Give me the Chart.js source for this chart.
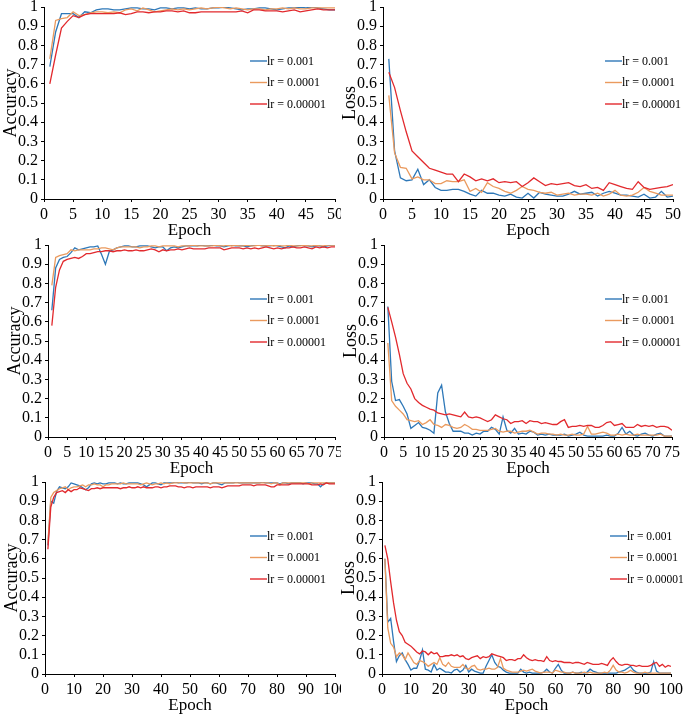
<!DOCTYPE html>
<html>
<head>
<meta charset="utf-8">
<script src="https://cdn.jsdelivr.net/npm/chart.js@4.4.1/dist/chart.umd.min.js"></script>
<style>
  body { margin: 0; background: #fff; }
  #wrap { position: relative; width: 685px; height: 717px; overflow: hidden; }
  canvas { position: absolute; }
</style>
</head>
<body>
<div id="wrap">
  <canvas id="c1" width="341" height="241" style="left:0px;top:0px"></canvas>
  <canvas id="c2" width="346" height="241" style="left:339px;top:0px"></canvas>
  <canvas id="c3" width="337" height="241" style="left:4px;top:238px"></canvas>
  <canvas id="c4" width="344" height="241" style="left:340px;top:238px"></canvas>
  <canvas id="c5" width="340" height="241" style="left:1px;top:475px"></canvas>
  <canvas id="c6" width="347" height="241" style="left:338px;top:475px"></canvas>
</div>
<script>
// learning rates (series names)
var seriesLabels = ['lr = 0.001', 'lr = 0.0001', 'lr = 0.00001'];
var colors = ['#2E78B8', '#EA9A5E', '#E2292D'];

var epochs50 = Array.from({length: 50}, (_, i) => i + 1);
var epochs75 = Array.from({length: 75}, (_, i) => i + 1);
var epochs100 = Array.from({length: 100}, (_, i) => i + 1);

// ---- 50 epochs ----
var acc50_lr3 = [0.69,0.87,0.965,0.965,0.965,0.945,0.975,0.97,0.985,0.99,0.99,0.985,0.985,0.99,0.995,0.995,0.99,0.99,0.985,0.995,0.995,0.99,0.995,0.995,0.99,0.995,0.99,0.99,0.995,0.995,1.0,0.995,0.99,0.985,0.99,0.99,0.995,0.995,0.99,0.985,0.99,0.995,0.995,1.0,0.995,1.0,0.995,0.99,0.985,0.985];
var acc50_lr4 = [0.73,0.93,0.94,0.945,0.975,0.955,0.96,0.97,0.975,0.975,0.97,0.975,0.97,0.985,0.99,0.98,0.995,0.985,0.975,0.98,0.985,0.99,0.985,0.99,0.985,0.99,0.995,0.99,0.995,1.0,0.995,0.99,0.995,0.99,0.985,0.99,0.99,0.985,0.99,0.99,0.995,0.99,0.995,0.99,0.99,0.995,0.995,0.995,0.995,0.995];
var acc50_lr5 = [0.60,0.75,0.89,0.925,0.955,0.945,0.96,0.965,0.965,0.965,0.965,0.965,0.97,0.96,0.965,0.975,0.975,0.97,0.975,0.975,0.98,0.98,0.975,0.98,0.97,0.97,0.975,0.975,0.975,0.975,0.975,0.975,0.975,0.98,0.97,0.985,0.985,0.98,0.98,0.98,0.975,0.98,0.985,0.975,0.98,0.985,0.99,0.985,0.985,0.985];

var loss50_lr3 = [0.73,0.25,0.11,0.095,0.10,0.155,0.075,0.10,0.06,0.045,0.045,0.05,0.05,0.04,0.025,0.015,0.045,0.03,0.03,0.02,0.015,0.025,0.01,0.005,0.03,0.005,0.035,0.025,0.02,0.015,0.015,0.025,0.04,0.025,0.03,0.035,0.015,0.03,0.04,0.03,0.02,0.02,0.015,0.01,0.025,0.005,0.01,0.04,0.01,0.015];
var loss50_lr4 = [0.54,0.24,0.165,0.16,0.105,0.115,0.10,0.10,0.08,0.08,0.095,0.09,0.09,0.10,0.04,0.055,0.035,0.085,0.065,0.055,0.04,0.03,0.045,0.065,0.05,0.045,0.035,0.03,0.035,0.02,0.025,0.03,0.02,0.025,0.025,0.02,0.03,0.015,0.025,0.045,0.02,0.015,0.02,0.035,0.06,0.04,0.03,0.02,0.02,0.02];
var loss50_lr5 = [0.66,0.58,0.46,0.35,0.25,0.22,0.19,0.16,0.15,0.14,0.13,0.13,0.09,0.13,0.115,0.095,0.105,0.095,0.105,0.085,0.09,0.085,0.09,0.065,0.085,0.11,0.09,0.07,0.08,0.075,0.08,0.085,0.07,0.065,0.075,0.055,0.06,0.045,0.085,0.075,0.065,0.055,0.05,0.09,0.06,0.05,0.055,0.06,0.065,0.075];

// ---- 75 epochs ----
var acc75_lr3 = [0.66,0.88,0.925,0.935,0.94,0.96,0.985,0.975,0.98,0.985,0.99,0.99,0.995,0.95,0.90,0.965,0.975,0.985,0.99,0.995,0.995,0.99,0.99,0.995,0.995,0.995,0.99,0.985,0.99,0.99,0.97,0.985,0.99,0.985,0.99,0.995,0.995,0.995,0.995,1.0,0.995,0.995,1.0,0.995,0.995,0.99,0.995,1.0,0.995,0.995,0.995,0.99,0.995,1.0,1.0,0.995,0.995,0.995,1.0,0.995,0.99,0.985,0.995,0.99,0.995,1.0,0.995,0.995,0.99,0.995,0.995,0.99,0.995,1.0,1.0];
var acc75_lr4 = [0.79,0.935,0.945,0.95,0.955,0.975,0.97,0.975,0.975,0.975,0.975,0.98,0.98,0.985,0.985,0.98,0.975,0.985,0.99,0.99,0.99,0.99,0.99,0.985,0.99,0.99,0.995,0.995,0.99,0.995,0.995,0.995,0.995,0.99,0.995,0.995,0.995,1.0,0.995,0.995,0.995,0.995,0.995,1.0,0.995,0.995,1.0,0.995,1.0,0.995,0.995,1.0,0.995,0.995,1.0,0.995,0.995,1.0,0.995,1.0,0.995,0.995,1.0,0.995,0.995,0.995,1.0,0.995,0.995,1.0,0.995,0.995,1.0,1.0,1.0];
var acc75_lr5 = [0.58,0.78,0.87,0.915,0.925,0.93,0.935,0.93,0.94,0.955,0.955,0.96,0.965,0.965,0.97,0.97,0.965,0.97,0.97,0.975,0.97,0.97,0.975,0.97,0.97,0.975,0.98,0.975,0.965,0.975,0.97,0.975,0.975,0.98,0.975,0.98,0.985,0.98,0.98,0.98,0.98,0.985,0.985,0.985,0.985,0.975,0.98,0.985,0.985,0.985,0.98,0.985,0.98,0.985,0.98,0.985,0.99,0.985,0.98,0.985,0.98,0.985,0.985,0.99,0.985,0.985,0.99,0.985,0.98,0.99,0.985,0.99,0.985,0.99,0.99];

var loss75_lr3 = [0.68,0.29,0.19,0.195,0.16,0.12,0.045,0.06,0.075,0.05,0.045,0.035,0.02,0.23,0.27,0.13,0.07,0.03,0.03,0.03,0.02,0.02,0.01,0.02,0.015,0.03,0.03,0.05,0.04,0.015,0.105,0.035,0.02,0.045,0.015,0.02,0.015,0.03,0.025,0.01,0.015,0.01,0.015,0.01,0.01,0.01,0.015,0.005,0.01,0.015,0.025,0.01,0.005,0.005,0.005,0.005,0.005,0.01,0.005,0.005,0.02,0.05,0.015,0.03,0.01,0.005,0.015,0.02,0.01,0.005,0.015,0.02,0.005,0.005,0.005];
var loss75_lr4 = [0.49,0.19,0.16,0.14,0.12,0.09,0.085,0.08,0.085,0.065,0.075,0.09,0.065,0.06,0.05,0.065,0.06,0.05,0.045,0.05,0.065,0.055,0.04,0.04,0.035,0.035,0.035,0.04,0.045,0.03,0.025,0.03,0.03,0.02,0.025,0.03,0.03,0.035,0.025,0.015,0.02,0.02,0.015,0.015,0.01,0.015,0.01,0.01,0.015,0.01,0.01,0.015,0.055,0.015,0.015,0.02,0.025,0.02,0.01,0.01,0.015,0.01,0.015,0.01,0.01,0.015,0.01,0.01,0.01,0.01,0.01,0.015,0.005,0.005,0.005];
var loss75_lr5 = [0.675,0.6,0.52,0.43,0.33,0.28,0.25,0.20,0.18,0.165,0.155,0.145,0.14,0.125,0.12,0.115,0.12,0.115,0.11,0.105,0.13,0.105,0.1,0.105,0.1,0.09,0.08,0.09,0.115,0.105,0.095,0.09,0.07,0.08,0.08,0.085,0.07,0.085,0.08,0.08,0.07,0.075,0.07,0.065,0.065,0.08,0.09,0.05,0.055,0.055,0.06,0.055,0.06,0.06,0.05,0.05,0.06,0.075,0.08,0.06,0.065,0.07,0.05,0.05,0.05,0.065,0.055,0.06,0.055,0.06,0.05,0.055,0.055,0.05,0.035];

// ---- 100 epochs ----
var acc100_lr3 = [0.67,0.90,0.89,0.95,0.975,0.97,0.965,0.975,0.995,0.99,0.985,0.98,0.97,0.96,0.97,0.99,0.995,0.99,0.995,0.99,0.99,0.995,0.995,0.995,0.99,0.995,0.99,0.99,0.995,0.995,0.995,0.995,0.99,0.985,0.975,0.985,0.995,0.995,0.99,0.985,0.995,0.995,0.995,0.995,1.0,0.995,0.995,0.995,0.995,1.0,0.995,0.995,0.995,0.99,0.995,0.995,0.99,0.995,0.995,0.99,0.985,0.995,0.995,0.995,0.995,1.0,0.995,0.995,0.995,0.995,0.995,0.995,0.995,0.995,1.0,0.995,0.995,0.995,0.995,0.995,0.99,0.995,0.995,0.99,0.995,0.995,0.995,0.995,0.99,0.995,0.995,0.995,0.99,0.99,0.975,0.99,0.995,0.995,0.995,0.995];
var acc100_lr4 = [0.68,0.92,0.945,0.955,0.965,0.97,0.975,0.96,0.97,0.975,0.975,0.98,0.985,0.975,0.985,0.985,0.99,0.985,0.985,0.975,0.985,0.985,0.99,0.99,0.99,0.99,0.995,0.99,0.99,0.99,0.99,0.99,0.985,0.99,0.995,0.99,0.985,0.99,0.99,0.995,0.99,0.995,0.99,0.995,0.995,0.995,1.0,0.995,0.995,0.995,0.995,0.995,0.995,0.995,0.995,0.995,0.99,0.995,0.995,0.995,0.995,0.995,0.995,0.995,0.995,0.995,0.995,0.995,0.995,0.995,0.995,0.995,0.995,0.995,0.995,0.995,0.995,0.99,0.995,0.995,0.985,0.995,0.995,0.995,0.995,0.995,0.995,0.995,0.995,0.995,0.99,0.995,0.995,0.995,0.995,0.995,0.995,0.995,0.995,0.995];
var acc100_lr5 = [0.65,0.87,0.92,0.945,0.95,0.955,0.945,0.96,0.95,0.96,0.96,0.97,0.965,0.96,0.955,0.965,0.965,0.97,0.965,0.97,0.97,0.97,0.97,0.97,0.97,0.965,0.97,0.97,0.975,0.97,0.97,0.975,0.97,0.975,0.97,0.97,0.97,0.975,0.975,0.97,0.975,0.975,0.98,0.98,0.98,0.975,0.975,0.97,0.975,0.975,0.97,0.975,0.975,0.975,0.975,0.975,0.97,0.975,0.975,0.975,0.97,0.975,0.98,0.98,0.98,0.98,0.98,0.985,0.985,0.985,0.985,0.98,0.985,0.985,0.985,0.985,0.98,0.975,0.975,0.985,0.985,0.985,0.985,0.985,0.99,0.99,0.99,0.99,0.99,0.99,0.99,0.985,0.985,0.985,0.99,0.985,0.995,0.99,0.99,0.99];

var loss100_lr3 = [0.60,0.27,0.29,0.17,0.065,0.095,0.11,0.075,0.05,0.02,0.03,0.03,0.07,0.125,0.025,0.02,0.01,0.05,0.02,0.03,0.02,0.01,0.01,0.005,0.02,0.025,0.01,0.02,0.045,0.01,0.025,0.015,0.01,0.005,0.005,0.04,0.07,0.1,0.06,0.04,0.035,0.02,0.01,0.005,0.005,0.005,0.005,0.025,0.01,0.005,0.01,0.005,0.005,0.005,0.005,0.01,0.025,0.01,0.005,0.03,0.05,0.02,0.005,0.005,0.005,0.01,0.005,0.005,0.01,0.005,0.01,0.025,0.015,0.01,0.005,0.005,0.005,0.005,0.005,0.005,0.005,0.01,0.015,0.02,0.03,0.04,0.02,0.01,0.005,0.005,0.005,0.005,0.01,0.065,0.015,0.005,0.005,0.005,0.005,0.005];
var loss100_lr4 = [0.6,0.24,0.16,0.14,0.09,0.11,0.10,0.075,0.11,0.085,0.06,0.05,0.07,0.065,0.055,0.04,0.05,0.06,0.05,0.085,0.05,0.04,0.06,0.04,0.035,0.035,0.035,0.05,0.03,0.025,0.04,0.045,0.025,0.02,0.025,0.025,0.03,0.025,0.025,0.035,0.08,0.03,0.02,0.015,0.01,0.01,0.01,0.015,0.02,0.015,0.02,0.025,0.015,0.01,0.005,0.01,0.01,0.01,0.005,0.02,0.015,0.01,0.01,0.005,0.005,0.01,0.005,0.005,0.005,0.01,0.005,0.01,0.005,0.005,0.005,0.005,0.01,0.005,0.02,0.045,0.02,0.01,0.01,0.005,0.01,0.02,0.01,0.005,0.005,0.005,0.01,0.005,0.005,0.005,0.005,0.005,0.005,0.005,0.005,0.005];
var loss100_lr5 = [0.67,0.60,0.48,0.37,0.28,0.22,0.20,0.165,0.155,0.145,0.13,0.115,0.105,0.12,0.115,0.10,0.115,0.105,0.11,0.09,0.09,0.095,0.095,0.1,0.095,0.1,0.09,0.095,0.08,0.075,0.085,0.09,0.095,0.08,0.09,0.085,0.09,0.105,0.1,0.095,0.09,0.085,0.07,0.075,0.075,0.07,0.08,0.08,0.1,0.085,0.075,0.07,0.075,0.07,0.07,0.065,0.09,0.07,0.065,0.07,0.065,0.065,0.06,0.06,0.06,0.055,0.06,0.06,0.055,0.05,0.06,0.055,0.05,0.05,0.05,0.055,0.05,0.045,0.07,0.085,0.065,0.05,0.045,0.05,0.05,0.045,0.045,0.04,0.045,0.04,0.04,0.04,0.045,0.055,0.06,0.04,0.05,0.035,0.045,0.04];

var FONT = "'Liberation Serif', 'Times New Roman', serif";
var Y_AXIS_W = 44, X_AXIS_H = 42;

// legend drawn inside the plot area, lr order top to bottom
var insideLegend = {
  id: 'insideLegend',
  afterDraw(chart, args, opts) {
    var ctx = chart.ctx, area = chart.chartArea;
    var sets = chart.data.datasets.slice().reverse();
    ctx.save();
    ctx.font = opts.size + 'px ' + FONT;
    ctx.textBaseline = 'middle';
    sets.forEach(function (d, i) {
      var x = area.left + opts.dx, y = area.top + opts.dy + i * opts.gap;
      ctx.strokeStyle = d.borderColor;
      ctx.lineWidth = 1.4;
      ctx.beginPath();
      ctx.moveTo(x, y);
      ctx.lineTo(x + 17, y);
      ctx.stroke();
      ctx.fillStyle = '#000';
      ctx.fillText(d.label, x + 17, y + 0.5);
    });
    ctx.restore();
  }
};

function makeChart(id, epochs, series, yTitle, xStep, padRight, legendDx, legendSize) {
  var maxX = epochs[epochs.length - 1];
  return new Chart(document.getElementById(id), {
    type: 'line',
    data: {
      labels: epochs,
      // reversed so the lr = 0.00001 line is painted on top
      datasets: series.map(function (s, i) {
        return {
          label: seriesLabels[i],
          data: s,
          borderColor: colors[i],
          backgroundColor: colors[i],
          borderWidth: 1.3,
          pointRadius: 0,
          tension: 0,
          fill: false
        };
      }).reverse()
    },
    options: {
      responsive: false,
      animation: false,
      events: [],
      layout: { padding: { top: 7, right: padRight, left: 0, bottom: 0 } },
      plugins: {
        legend: { display: false },
        tooltip: { enabled: false },
        insideLegend: { dx: legendDx, dy: 54, gap: 21.5, size: legendSize || 12 }
      },
      scales: {
        x: {
          type: 'linear',
          min: 0,
          max: maxX,
          afterFit: function (s) { s.height = X_AXIS_H; s.paddingLeft = 0; s.paddingRight = 0; },
          ticks: {
            stepSize: xStep,
            autoSkip: false,
            maxRotation: 0,
            minRotation: 0,
            padding: 3,
            color: '#000',
            font: { family: FONT, size: 16 }
          },
          grid: { drawOnChartArea: false, drawTicks: true, tickLength: 3, color: '#000' },
          border: { color: '#000', width: 1 },
          title: {
            display: true,
            text: 'Epoch',
            color: '#000',
            font: { family: FONT, size: 17 },
            padding: 0
          }
        },
        y: {
          min: 0,
          max: 1,
          afterFit: function (s) { s.width = Y_AXIS_W; s.paddingTop = 0; s.paddingBottom = 0; },
          ticks: {
            stepSize: 0.1,
            autoSkip: false,
            padding: 3,
            color: '#000',
            font: { family: FONT, size: 16 },
            callback: function (v) { return String(+v.toFixed(1)); }
          },
          grid: { drawOnChartArea: false, drawTicks: true, tickLength: 3, color: '#000' },
          border: { color: '#000', width: 1 },
          title: {
            display: true,
            text: yTitle,
            color: '#000',
            font: { family: FONT, size: 18 },
            padding: 0
          }
        }
      }
    },
    plugins: [insideLegend]
  });
}

makeChart('c1', epochs50, [acc50_lr3, acc50_lr4, acc50_lr5], 'Accuracy', 5, 6, 206);
makeChart('c2', epochs50, [loss50_lr3, loss50_lr4, loss50_lr5], 'Loss', 5, 12, 222);
makeChart('c3', epochs75, [acc75_lr3, acc75_lr4, acc75_lr5], 'Accuracy', 5, 6, 202);
makeChart('c4', epochs75, [loss75_lr3, loss75_lr4, loss75_lr5], 'Loss', 5, 12, 221);
makeChart('c5', epochs100, [acc100_lr3, acc100_lr4, acc100_lr5], 'Accuracy', 10, 6, 205);
makeChart('c6', epochs100, [loss100_lr3, loss100_lr4, loss100_lr5], 'Loss', 10, 14, 228, 11.5);
</script>
</body>
</html>
